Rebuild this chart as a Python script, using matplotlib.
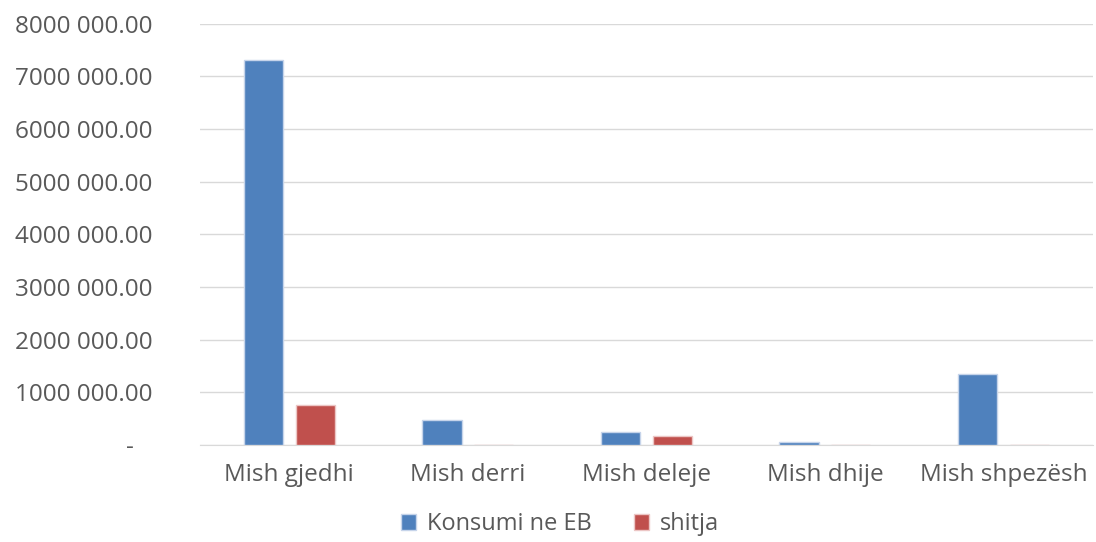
import numpy as np
import matplotlib.pyplot as plt
from matplotlib.ticker import FuncFormatter

categories = ["Mish gjedhi", "Mish derri", "Mish deleje", "Mish dhije", "Mish shpezësh"]
konsumi = [7320000, 470000, 240000, 50000, 1350000]
shitja = [760000, 8000, 165000, 6000, 8000]

plt.rcParams["font.family"] = ["Open Sans", "DejaVu Sans"]
text_color = "#595959"

fig = plt.figure(figsize=(10.96, 5.42), dpi=100)
ax = fig.add_axes([0.1825, 0.179, 0.8145, 0.777])

x = np.arange(len(categories))
w = 0.22
ax.bar(x - 0.145, konsumi, w, color="#4f81bd", edgecolor="#c6d4ea", linewidth=1,
       label="Konsumi ne EB", zorder=3)
ax.bar(x + 0.145, shitja, w, color="#c0504d", edgecolor="#ecc6c5", linewidth=1,
       label="shitja", zorder=3)

ax.set_xlim(-0.5, len(categories) - 0.5)
ax.set_ylim(0, 8000000)
ax.set_yticks(np.arange(0, 8000001, 1000000))


def fmt(v, pos):
    if v == 0:
        return "-   "
    return f"{int(v // 1000)} {int(v % 1000):03d}.00"


ax.yaxis.set_major_formatter(FuncFormatter(fmt))
ax.set_xticks(x)
ax.set_xticklabels(categories)
ax.tick_params(axis="both", length=0, labelsize=17.5, colors=text_color)
ax.tick_params(axis="y", pad=34)
ax.tick_params(axis="x", pad=13)

ax.grid(axis="y", color="#d9d9d9", linewidth=1, zorder=0)
for s in ["top", "right", "left"]:
    ax.spines[s].set_visible(False)
ax.spines["bottom"].set_color("#d9d9d9")

leg = fig.legend(loc="lower center", bbox_to_anchor=(0.511, -0.028), ncol=2, frameon=False,
                 fontsize=17, handlelength=0.65, handleheight=0.65, columnspacing=1.8,
                 handletextpad=0.45)
for t in leg.get_texts():
    t.set_color(text_color)

fig.savefig("out.png", dpi=100)
